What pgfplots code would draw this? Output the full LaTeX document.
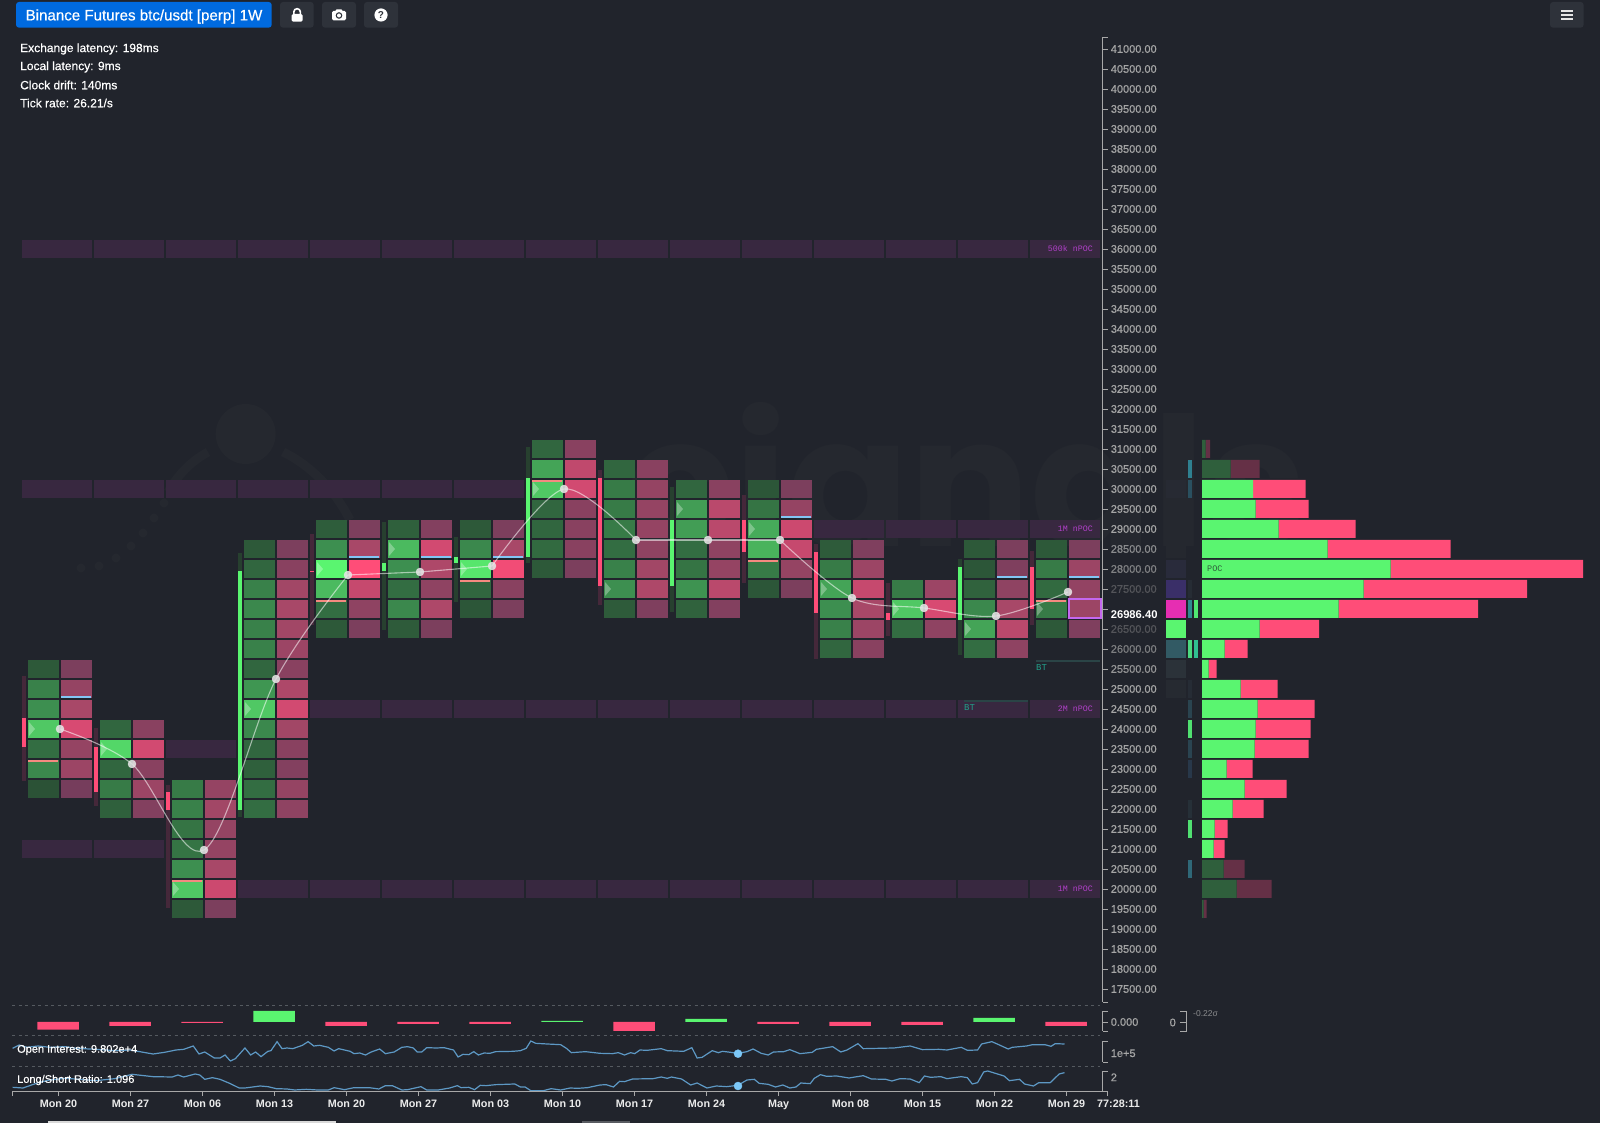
\documentclass[border=0pt]{standalone}
\usepackage{fontspec}
\usepackage{pgfplots}
\usepackage{pgfplotstable}
\pgfplotsset{compat=1.18}
\setmainfont{Liberation Sans}
\newfontfamily\mono{Liberation Mono}
\newfontfamily\wmfont{Poppins}
\newfontfamily\semi{Liberation Sans}[FakeBold=0.5]
\definecolor{bg}{HTML}{21242C}
\definecolor{wmc}{HTML}{25282F}
\definecolor{axisc}{HTML}{A8A8A8}
\definecolor{tickt}{HTML}{A6A6A6}
\definecolor{wickr}{HTML}{45283A}
\definecolor{wickg}{HTML}{27402F}
\definecolor{bodyr}{HTML}{FF4D78}
\definecolor{bodyg}{HTML}{5AF570}
\definecolor{bandc}{HTML}{382840}
\definecolor{blueln}{HTML}{82C6F5}
\definecolor{orgln}{HTML}{F58A80}
\definecolor{lnblue}{HTML}{5D98C4}
\definecolor{dotblue}{HTML}{7CC8F8}
\definecolor{dimg}{HTML}{2F5F3C}
\definecolor{dimr}{HTML}{653046}
\definecolor{npoc}{HTML}{B040C8}
\definecolor{btc}{HTML}{22A08A}
\definecolor{btln}{HTML}{2A4446}
\definecolor{currc}{HTML}{C468F0}
\definecolor{btnc}{HTML}{2E323A}
\definecolor{dashc}{HTML}{555A60}
\pgfdeclareplotmark{bcell}{\pgfpathrectangle{\pgfpoint{-32pt}{-9pt}}{\pgfpoint{31pt}{18pt}}\pgfusepathqfill}
\pgfdeclareplotmark{scell}{\pgfpathrectangle{\pgfpoint{1pt}{-9pt}}{\pgfpoint{31pt}{18pt}}\pgfusepathqfill}
\pgfdeclareplotmark{band}{\pgfpathrectangle{\pgfpoint{-38pt}{-9pt}}{\pgfpoint{70pt}{18pt}}\pgfusepathqfill}
\pgfdeclareplotmark{bline}{\pgfpathrectangle{\pgfpoint{1pt}{-1pt}}{\pgfpoint{30pt}{2pt}}\pgfusepathqfill}
\pgfdeclareplotmark{oline}{\pgfpathrectangle{\pgfpoint{-32pt}{-1pt}}{\pgfpoint{30pt}{2pt}}\pgfusepathqfill}
\pgfdeclareplotmark{btline}{\pgfpathrectangle{\pgfpoint{-32pt}{-1pt}}{\pgfpoint{64pt}{2pt}}\pgfusepathqfill}
\pgfdeclareplotmark{currbox}{\pgfpathrectangle{\pgfpoint{0.5pt}{-9.5pt}}{\pgfpoint{32.5pt}{19pt}}\pgfusepathqstroke}
\pgfdeclareplotmark{tri}{\pgfpathmoveto{\pgfpoint{-31pt}{-7pt}}\pgfpathlineto{\pgfpoint{-25pt}{0pt}}\pgfpathlineto{\pgfpoint{-31pt}{7pt}}\pgfpathclose\pgfusepathqfill}
\pgfdeclareplotmark{hwide}{\pgfpathrectangle{\pgfpoint{-10pt}{-9pt}}{\pgfpoint{20pt}{18pt}}\pgfusepathqfill}
\pgfdeclareplotmark{hthin}{\pgfpathrectangle{\pgfpoint{-2.2pt}{-9pt}}{\pgfpoint{4.4pt}{18pt}}\pgfusepathqfill}
\newcommand\candle[6]{%
  \addplot[wick#6,line width=4pt,no marks] coordinates {(#1,#2)(#1,#3)};
  \addplot[body#6,line width=4pt,no marks] coordinates {(#1,#4)(#1,#5)};}
\newcommand\heat[4]{\definecolor{h#2}{HTML}{#2}%
  \addplot[only marks,mark=#1,color=h#2] coordinates {(#3,#4)};}
\pgfplotstableread{
w p b s
0 25500 5 10
0 25000 35 30
0 24500 45 45
0 24000 85 85
0 23500 20 30
0 23000 40 35
0 22500 0 5
1 24000 15 20
1 23500 90 80
1 23000 15 20
1 22500 30 35
1 22000 10 15
2 22500 30 30
2 22000 35 40
2 21500 25 30
2 21000 25 30
2 20500 45 45
2 20000 85 75
2 19500 5 10
3 28500 5 10
3 28000 15 20
3 27500 35 40
3 27000 40 45
3 26500 35 40
3 26000 35 35
3 25500 15 20
3 25000 50 50
3 24500 85 80
3 24000 40 40
3 23500 15 20
3 23000 10 15
3 22500 20 30
3 22000 20 25
4 29000 8 10
4 28500 45 45
4 28000 100 100
4 27500 75 70
4 27000 20 25
4 26500 5 10
5 29000 10 15
5 28500 75 80
5 28000 45 50
5 27500 20 25
5 27000 40 50
5 26500 7 10
6 29000 5 10
6 28500 40 45
6 28000 95 95
6 27500 15 20
6 27000 3 10
7 31000 15 20
7 30500 60 65
7 30000 85 80
7 29500 15 20
7 29000 15 20
7 28500 18 20
7 28000 5 10
8 30500 15 20
8 30000 30 30
8 29500 30 30
8 29000 30 30
8 28500 20 25
8 28000 35 40
8 27500 45 50
8 27000 7 12
9 30000 15 20
9 29500 55 60
9 29000 55 60
9 28500 20 25
9 28000 25 30
9 27500 48 60
9 27000 12 15
10 30000 3 10
10 29500 25 30
10 29000 65 75
10 28500 70 70
10 28000 30 30
10 27500 3 10
11 28500 7 12
11 28000 30 35
11 27500 60 70
11 27000 45 45
11 26500 35 35
11 26000 15 20
12 27500 30 35
12 27000 85 85
12 26500 20 25
13 28500 5 10
13 28000 3 12
13 27500 12 25
13 27000 40 45
13 26500 60 60
13 26000 20 25
14 28500 5 10
14 28000 30 35
14 27500 18 28
14 27000 30 35
14 26500 5 12
}\cells
\pgfplotstableread{
w p
0 36000
1 36000
2 36000
3 36000
4 36000
5 36000
6 36000
7 36000
8 36000
9 36000
10 36000
11 36000
12 36000
13 36000
14 36000
0 30000
1 30000
2 30000
3 30000
4 30000
5 30000
6 30000
11 29000
12 29000
13 29000
14 29000
4 24500
5 24500
6 24500
7 24500
8 24500
9 24500
10 24500
11 24500
12 24500
13 24500
14 24500
2 23500
0 21000
1 21000
3 20000
4 20000
5 20000
6 20000
7 20000
8 20000
9 20000
10 20000
11 20000
12 20000
13 20000
14 20000
}\bands
\pgfplotstableread{
y buy dbuy sell dsell
31000 0 3.7 0 4.3
30500 0 28.7 0 29
30000 51 0 52.7 0
29500 53.7 0 53 0
29000 76.7 0 77 0
28500 125.7 0 123 0
28000 188.7 0 192.3 0
27500 161.7 0 163.3 0
27000 136.7 0 139.3 0
26500 57.7 0 59.3 0
26000 22.7 0 23 0
25500 6.7 0 8 0
25000 38.7 0 37 0
24500 55.7 0 57 0
24000 53.7 0 55 0
23500 52.7 0 54 0
23000 24.7 0 26 0
22500 42.7 0 42 0
22000 30.7 0 31 0
21500 12.7 0 13 0
21000 11.7 0 11 0
20500 0 21.7 0 21
20000 0 34.7 0 35
19500 0 1.7 0 3
}\profile
\pgfplotstableread[row sep=\\]{a b\\33 175\\50 165\\70 172\\100 168\\130 172\\170 170\\200 175\\250 178\\300 182\\340 180\\400 192\\430 187\\460 180\\480 178\\505 168\\520 192\\535 186\\560 204\\575 204\\588 195\\602 213\\615 206\\640 174\\655 195\\668 186\\682 200\\700 184\\708 182\\724 155\\737 176\\750 174\\765 176\\790 166\\805 155\\820 168\\835 166\\858 172\\873 183\\885 176\\915 184\\925 191\\940 189\\955 195\\970 186\\992 177\\1007 191\\1030 186\\1050 172\\1065 170\\1080 174\\1090 186\\1102 186\\1115 173\\1140 174\\1160 173\\1185 180\\1197 201\\1210 193\\1225 194\\1238 185\\1250 195\\1265 189\\1280 190\\1295 185\\1340 184\\1360 182\\1375 175\\1387 153\\1400 160\\1430 162\\1465 164\\1480 175\\1493 188\\1530 185\\1568 190\\}\oia
\pgfplotstableread[row sep=\\]{a b\\0 190\\30 191\\45 188\\60 195\\75 188\\85 191\\98 180\\115 181\\150 176\\165 182\\205 184\\225 173\\238 204\\250 202\\275 182\\290 188\\300 184\\320 187\\338 190\\360 185\\375 177\\395 190\\412 195\\425 186\\450 185\\465 179\\490 191\\520 187\\530 178\\570 170\\590 186\\605 180\\632 161\\645 176\\720 174\\760 168\\790 179\\830 178\\850 180\\885 172\\900 181\\925 180\\935 162\\960 155\\975 163\\1000 177\\1010 172\\1045 168\\1060 164\\1090 164\\1105 169\\1115 161\\1138 162\\}\oib
\pgfplotstableread[row sep=\\]{a b\\33 292\\60 294\\80 286\\100 278\\130 270\\170 265\\210 268\\250 272\\300 266\\345 253\\400 260\\450 261\\465 255\\480 261\\510 252\\522 255\\535 268\\555 263\\575 268\\600 280\\625 294\\640 294\\680 288\\700 290\\722 296\\750 297\\770 300\\800 298\\830 300\\858 300\\873 293\\900 299\\925 293\\965 293\\990 297\\1007 287\\1025 287\\1050 300\\1065 299\\1100 290\\1115 300\\1145 300\\1175 294\\1195 287\\1205 293\\1225 292\\1240 299\\1255 286\\1270 287\\1295 284\\1345 282\\1360 291\\1372 291\\1387 302\\1420 302\\1440 296\\1465 300\\1490 294\\1510 295\\1535 293\\1568 285\\}\lsa
\pgfplotstableread[row sep=\\]{a b\\0 285\\15 284\\33 291\\48 274\\60 275\\80 267\\130 266\\150 261\\165 265\\175 261\\200 267\\222 285\\238 279\\262 294\\285 288\\310 290\\338 286\\360 270\\378 268\\390 280\\412 283\\430 291\\448 285\\465 294\\480 291\\492 279\\515 281\\525 265\\540 254\\555 259\\580 258\\610 264\\645 257\\665 267\\700 268\\715 273\\735 266\\760 267\\782 278\\795 258\\810 262\\835 260\\850 266\\885 260\\900 263\\912 282\\925 278\\940 246\\950 243\\990 258\\1003 272\\1028 268\\1040 282\\1062 288\\1075 278\\1103 278\\1125 252\\1138 248\\}\lsb
\newcommand\fs[1]{\fontsize{#1}{#1}\selectfont}
\begin{document}
\begin{tikzpicture}[x=1pt,y=1pt]
\useasboundingbox (0,0) rectangle (1600,1123);
\fill[bg] (0,0) rectangle (1600,1123);
% watermark
\begin{scope}[shift={(0,1123)},y=-1pt]
\fill[wmc] (245.7,434) circle (30);
\draw[wmc,line width=9pt] (208,452) .. controls (190,462) and (178,475) .. (168,492);
\draw[wmc,line width=9pt] (283,452) .. controls (310,465) and (335,490) .. (350,520);
\foreach \a/\b/\r in {164/503/4.5,154/518/4.5,143/533/4.5,131/546/4.5,116/558/4.5,99/566/4.5,81/568/4.5}{\fill[wmc] (\a,\b) circle (\r);}
\node[anchor=base west,wmc,inner sep=0pt] at (625,547) {\wmfont\bfseries\fs{180}cianals};
\end{scope}
% main candle axis: x in weeks, y in price
\begin{axis}[at={(0pt,0pt)},anchor=south west,scale only axis,width=1600pt,height=1123pt,hide axis,clip=false,
  xmin=-0.833333,xmax=21.388889,ymin=14150,ymax=42225,
  colormap={duo}{rgb255(0pt)=(43,82,54) rgb255(45pt)=(61,143,80) rgb255(85pt)=(80,200,100) rgb255(100pt)=(90,245,112) rgb255(110pt)=(112,60,90) rgb255(155pt)=(168,72,104) rgb255(195pt)=(216,74,114) rgb255(210pt)=(255,77,120)},
  point meta min=0,point meta max=210]
\addplot[only marks,mark=band,color=bandc] table[x=w,y=p]{\bands};
\candle{-0.5}{22700}{25325}{23550}{24275}{r}
\candle{0.5}{22075}{24025}{22425}{23550}{r}
\candle{1.5}{19525}{22600}{21975}{22425}{r}
\candle{2.5}{21800}{28400}{21975}{27950}{g}
\candle{3.5}{26600}{28875}{27925}{27950}{r}
\candle{4.5}{26475}{29175}{27950}{28150}{g}
\candle{5.5}{27175}{28800}{28150}{28300}{g}
\candle{6.5}{28150}{31050}{28300}{30275}{g}
\candle{7.5}{27100}{30475}{27575}{30275}{r}
\candle{8.5}{26925}{30050}{27575}{29225}{g}
\candle{9.5}{27650}{29850}{28425}{29225}{r}
\candle{10.5}{25750}{28625}{26900}{28425}{r}
\candle{11.5}{26325}{27650}{26725}{26900}{r}
\candle{12.5}{25850}{28250}{26725}{28050}{g}
\candle{13.5}{26600}{28450}{27000}{28050}{r}
\addplot[scatter,only marks,mark=bcell,scatter src=explicit] table[x=w,y=p,meta=b]{\cells};
\addplot[scatter,only marks,mark=scell,scatter src=explicit] table[x=w,y=p,meta expr=\thisrow{s}+110]{\cells};
\addplot[only marks,mark=tri,color=white,opacity=0.3] coordinates {(0,24000)(1,23500)(2,20000)(3,24500)(4,28000)(5,28500)(6,28000)(7,30000)(8,27500)(9,29500)(10,29000)(11,27500)(12,27000)(13,26500)(14,27000)};
\addplot[only marks,mark=bline,color=blueln] coordinates {(0,24800)(4,28300)(5,28300)(6,28300)(10,29300)(13,27800)(14,27800)};
\addplot[only marks,mark=oline,color=orgln] coordinates {(0,23200)(2,20200)(4,27200)(6,27700)(7,30200)(10,28200)(14,27200)};
\addplot[only marks,mark=btline,color=btln] coordinates {(13,24700)(14,25700)};
\addplot[only marks,mark=currbox,color=currc,line width=2pt] coordinates {(14,27000)};
\end{axis}
% price curve, over the cells
\begin{axis}[at={(0pt,0pt)},anchor=south west,scale only axis,width=1600pt,height=1123pt,hide axis,clip=false,
  xmin=-0.833333,xmax=21.388889,ymin=14150,ymax=42225]
\addplot[smooth,tension=0.55,no marks,white,opacity=0.55,line width=1.1pt] coordinates {(0,24000)(1,23125)(2,20975)(3,25250)(4,27850)};
\addplot[no marks,white,opacity=0.55,line width=1.1pt] coordinates {(4,27850)(5,27925)(6,28075)};
\addplot[smooth,tension=0.5,no marks,white,opacity=0.55,line width=1.1pt] coordinates {(6,28075)(7,30000)(8,28725)};
\addplot[no marks,white,opacity=0.55,line width=1.1pt] coordinates {(8,28725)(9,28725)(10,28725)};
\addplot[smooth,tension=0.55,no marks,white,opacity=0.55,line width=1.1pt] coordinates {(10,28725)(11,27275)(12,27025)(13,26825)(14,27425)};
\addplot[only marks,mark=*,mark size=4pt,color=white!90!black,opacity=0.88] coordinates {(0,24000)(1,23125)(2,20975)(3,25250)(4,27850)(5,27925)(6,28075)(7,30000)(8,28725)(9,28725)(10,28725)(11,27275)(12,27025)(13,26825)(14,27425)};
\end{axis}
% volume profile
\begin{axis}[at={(1202pt,0pt)},anchor=south west,scale only axis,width=398pt,height=1123pt,hide axis,clip=false,
  xmin=0,xmax=398,ymin=14150,ymax=42225,xbar stacked,bar width=18pt]
\addplot[fill=bodyg,draw=none] table[y=y,x=buy]{\profile};
\addplot[fill=dimg,draw=none] table[y=y,x=dbuy]{\profile};
\addplot[fill=bodyr,draw=none] table[y=y,x=sell]{\profile};
\addplot[fill=dimr,draw=none] table[y=y,x=dsell]{\profile};
\end{axis}
% delta columns beside the profile: x in pixels
\begin{axis}[at={(0pt,0pt)},anchor=south west,scale only axis,width=1600pt,height=1123pt,hide axis,clip=false,
  xmin=0,xmax=1600,ymin=14150,ymax=42225]
\heat{hwide}{272A33}{1176}{30000}
\heat{hwide}{25282F}{1176}{29000}
\heat{hwide}{25282F}{1176}{28500}
\heat{hwide}{292B3B}{1176}{28000}
\heat{hwide}{3A2F68}{1176}{27500}
\heat{hwide}{E62EB2}{1176}{27000}
\heat{hwide}{5AF570}{1176}{26500}
\heat{hwide}{325A64}{1176}{26000}
\heat{hwide}{2B3239}{1176}{25500}
\heat{hwide}{262A31}{1176}{25000}
\heat{hthin}{2F8090}{1190}{30500}
\heat{hthin}{2A5060}{1190}{30000}
\heat{hthin}{262C34}{1190}{27500}
\heat{hthin}{2F8A8F}{1190}{27000}
\heat{hthin}{4CD880}{1190}{26000}
\heat{hthin}{262C35}{1190}{25000}
\heat{hthin}{2A4450}{1190}{24500}
\heat{hthin}{50E070}{1190}{24000}
\heat{hthin}{2A4451}{1190}{23500}
\heat{hthin}{28384A}{1190}{23000}
\heat{hthin}{263038}{1190}{22000}
\heat{hthin}{50E071}{1190}{21500}
\heat{hthin}{2F6878}{1190}{20500}
\heat{hthin}{50E872}{1196}{27000}
\heat{hthin}{30C090}{1196}{26000}
\end{axis}
% price scale
\begin{axis}[at={(0pt,121pt)},anchor=south west,scale only axis,width=1102.6pt,height=965pt,clip=false,
  axis y line=right,axis x line=none,xmin=0,xmax=1,ymin=17175,ymax=41300,scaled y ticks=false,
  axis line style={axisc,line width=0.9pt,-},tick style={axisc,line width=0.9pt},major tick length=5pt,tick align=outside,
  ytick={17175,17500,18000,18500,19000,19500,20000,20500,21000,21500,22000,22500,23000,23500,24000,24500,25000,25500,26000,26500,27000,27500,28000,28500,29000,29500,30000,30500,31000,31500,32000,32500,33000,33500,34000,34500,35000,35500,36000,36500,37000,37500,38000,38500,39000,39500,40000,40500,41000,41300},
  yticklabels={,17500.00,18000.00,18500.00,19000.00,19500.00,20000.00,20500.00,21000.00,21500.00,22000.00,22500.00,23000.00,23500.00,24000.00,24500.00,25000.00,\textcolor{tickt!88!bg}{25500.00},\textcolor{tickt!70!bg}{26000.00},\textcolor{tickt!38!bg}{26500.00},,\textcolor{tickt!38!bg}{27500.00},\textcolor{tickt!72!bg}{28000.00},\textcolor{tickt!80!bg}{28500.00},29000.00,29500.00,30000.00,30500.00,31000.00,31500.00,32000.00,32500.00,33000.00,33500.00,34000.00,34500.00,35000.00,35500.00,36000.00,36500.00,37000.00,37500.00,38000.00,38500.00,39000.00,39500.00,40000.00,40500.00,41000.00,},
  yticklabel style={font=\semi\fs{11},color=tickt,anchor=west,inner sep=0pt,xshift=3pt,yshift=0pt}]
\addplot[draw=none,forget plot] coordinates {(0,20000)};
\end{axis}
% delta panel
\begin{axis}[at={(12.6pt,92pt)},anchor=south west,scale only axis,width=1090pt,height=20pt,clip=false,
  axis y line=right,axis x line=none,xmin=12.6,xmax=1102.6,ymin=-9,ymax=11,
  axis line style={axisc,line width=0.9pt,-},tick style={axisc,line width=0.9pt},major tick length=5pt,tick align=outside,
  ytick={-9,0,11},yticklabels={,0.000,},yticklabel style={font=\semi\fs{11},color=tickt,anchor=west,inner sep=0pt,xshift=3pt,yshift=0pt}]
\addplot[ybar,bar width=41.5pt,bar shift=0pt,fill=bodyr,draw=none] coordinates {(58,-7.7)(130,-4)(202,-0.8)(346,-4)(418,-2)(490,-2)(634,-9)(778,-2)(850,-4)(922,-3)(1066,-4)};
\addplot[ybar,bar width=41.5pt,bar shift=0pt,fill=bodyg,draw=none] coordinates {(274,11)(562,1)(706,3)(994,4)};
\end{axis}
% open interest panel
\begin{axis}[at={(12.6pt,61pt)},anchor=south west,scale only axis,width=1090pt,height=21pt,clip=false,
  axis y line=right,axis x line=none,xmin=12.6,xmax=1102.6,ymin=-9,ymax=12,
  axis line style={axisc,line width=0.9pt,-},tick style={axisc,line width=0.9pt},major tick length=5pt,tick align=outside,
  ytick={-9,12},extra y ticks={0},extra y tick labels={1e+5},yticklabels={,},
  extra y tick style={major tick length=0pt},yticklabel style={font=\semi\fs{11},color=tickt,anchor=west,inner sep=0pt,xshift=8pt,yshift=-0.3pt}]
\addplot[lnblue,line width=1.2pt,no marks] table[x expr=\thisrow{a}/2.613,y expr=63-\thisrow{b}/3]{\oia};
\addplot[lnblue,line width=1.2pt,no marks] table[x expr=600+\thisrow{a}/2.45,y expr=63-\thisrow{b}/3]{\oib};
\addplot[only marks,mark=*,mark size=4pt,color=dotblue] coordinates {(738,-0.7)};
\end{axis}
% long/short panel
\begin{axis}[at={(12.6pt,32pt)},anchor=south west,scale only axis,width=1090pt,height=20pt,clip=false,
  axis y line=right,axis x line=none,xmin=12.6,xmax=1102.6,ymin=-14,ymax=6,
  axis line style={axisc,line width=0.9pt,-},tick style={axisc,line width=0.9pt},major tick length=5pt,tick align=outside,
  ytick={-14,6},yticklabels={,},extra y ticks={0},extra y tick labels={2},
  extra y tick style={major tick length=0pt},yticklabel style={font=\semi\fs{11},color=tickt,anchor=west,inner sep=0pt,xshift=8pt,yshift=-0.3pt}]
\addplot[lnblue,line width=1.2pt,no marks] table[x expr=\thisrow{a}/2.613,y expr=87-\thisrow{b}/3]{\lsa};
\addplot[lnblue,line width=1.2pt,no marks] table[x expr=600+\thisrow{a}/2.45,y expr=87-\thisrow{b}/3]{\lsb};
\addplot[only marks,mark=*,mark size=4pt,color=dotblue] coordinates {(738,-9)};
\end{axis}
% time axis
\begin{axis}[at={(12.6pt,32pt)},anchor=south west,scale only axis,width=1094.4pt,height=1pt,clip=false,
  axis x line=bottom,axis y line=none,xmin=12.6,xmax=1107,ymin=0,ymax=1,
  axis line style={axisc,line width=0.9pt,-},tick style={axisc,line width=0.9pt},major tick length=5pt,tick align=outside,
  xtick={12.6,58.5,130.5,202.5,274.5,346.5,418.5,490.5,562.5,634.5,706.5,778.5,850.5,922.5,994.5,1066.5,1107},
  xticklabels={,Mon 20,Mon 27,Mon 06,Mon 13,Mon 20,Mon 27,Mon 03,Mon 10,Mon 17,Mon 24,May,Mon 08,Mon 15,Mon 22,Mon 29,},
  xticklabel style={font=\fs{10.8}\bfseries,color=white!92!black,inner sep=0pt,anchor=north,text height=8pt,text depth=2pt,yshift=-3pt}]
\addplot[draw=none,forget plot] coordinates {(100,0)};
\end{axis}
% texts and controls, in picture pixels
\begin{scope}[shift={(0,1123)},y=-1pt]
\foreach \yy in {1005,1035,1066}{\draw[dashc,line width=0.9pt,dash pattern=on 3pt off 3.5pt] (12,\yy)--(1100,\yy);}
\draw[axisc,line width=0.9pt] (1180,1011)--(1186.5,1011)--(1186.5,1031)--(1180,1031) (1180,1022)--(1186.5,1022);
\node[anchor=east,tickt,inner sep=0pt,font=\semi\fs{11}] at (1176,1022.5) {0};
\node[anchor=west,tickt!80!bg,inner sep=0pt,font=\fs{8.5}] at (1193,1014) {-0.22σ};
\node[anchor=west,white,inner sep=0pt,font=\fs{11.2}\bfseries] at (1110.6,615) {26986.40};
\node[anchor=west,white!92!black,inner sep=0pt,font=\fs{10.8}\bfseries] at (1097,1104) {77:28:11};
\node[anchor=west,white,inner sep=0pt,font=\semi\fs{11}] at (17,1050) {Open Interest: 9.802e+4};
\node[anchor=west,white,inner sep=0pt,font=\semi\fs{11}] at (17,1080) {Long/Short Ratio: 1.096};
\foreach \yy/\t in {49/{Exchange latency: 198ms},67/{Local latency: 9ms},85/{Clock drift: 140ms},103/{Tick rate: 26.21/s}}{\node[anchor=west,white,inner sep=0pt,font=\semi\fs{12}] at (20,\yy) {\t};}
\foreach \yy/\t in {249/500k nPOC,529/1M nPOC,709/2M nPOC,889/1M nPOC}{\node[anchor=east,npoc,inner sep=0pt,font=\mono\fs{8.3}] at (1093,\yy) {\t};}
\node[anchor=west,btc,inner sep=0pt,font=\mono\fs{9}] at (964,708) {BT};
\node[anchor=west,btc,inner sep=0pt,font=\mono\fs{9}] at (1036,668) {BT};
\node[anchor=west,dimg,inner sep=0pt,font=\mono\fs{8.5}] at (1207,569) {POC};
\fill[rounded corners=3pt,fill={rgb,255:red,0;green,106;blue,223}] (16,2) rectangle (271.7,27.7);
\node[anchor=center,white,inner sep=0pt,font=\semi\fs{15.1}] at (144,16.5) {Binance Futures btc/usdt [perp] 1W};
\fill[rounded corners=3pt,btnc] (280,2) rectangle (313.7,27.7);
\fill[rounded corners=3pt,btnc] (322,2) rectangle (356,27.7);
\fill[rounded corners=3pt,btnc] (364,2) rectangle (398,27.7);
\fill[rounded corners=3pt,btnc] (1550,2) rectangle (1583.6,27.7);
\fill[white,rounded corners=1.5pt] (291.6,14) rectangle (302.6,21.7);
\draw[white,line width=1.6pt] (293.8,14.5) -- (293.8,12) arc[start angle=180,end angle=360,radius=3.3] -- (300.4,14.5);
\fill[white,rounded corners=1.5pt] (332,11) rectangle (346,20.5);
\fill[white] (335,11.5) -- (336.5,9.5) -- (341.5,9.5) -- (343,11.5) -- cycle;
\fill[btnc] (339,15.5) circle (3.3);
\fill[white] (339,15.5) circle (2);
\fill[white] (381,15) circle (6.6);
\node[btnc,inner sep=0pt,font=\fs{10}\bfseries] at (381,15) {?};
\draw[white!90!black,line width=1.1pt] (1561,11)--(1573,11) (1561,15)--(1573,15) (1561,19)--(1573,19);
\fill[white!85!black] (48,1121) rectangle (336,1123);
\fill[white!25!bg] (582,1121) rectangle (630,1123);
\end{scope}
\end{tikzpicture}
\end{document}
